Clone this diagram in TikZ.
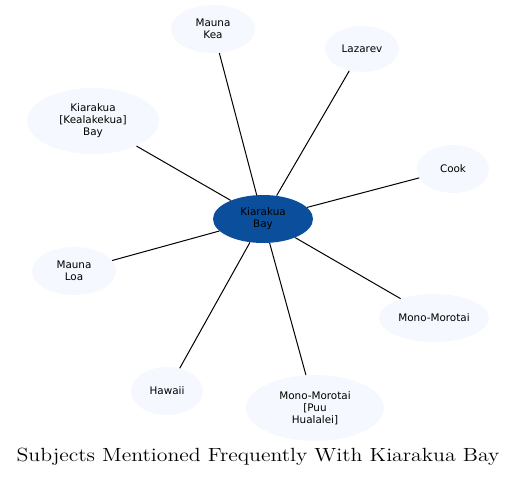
\documentclass[tikz,border=0pt]{standalone}
\usepackage{fontspec}
\newfontfamily\labelfont{DejaVu Sans}
\usetikzlibrary{shapes.geometric}
\definecolor{BayBlue}{RGB}{11,79,156}
\definecolor{PaleBlue}{RGB}{245,248,254}

\begin{document}
\begin{tikzpicture}[x=0.75pt, y=-0.75pt,
    subject/.style={ellipse, fill=PaleBlue, inner sep=0pt, align=center,
        font=\labelfont\fontsize{7.8}{9}\selectfont},
    hub/.style={subject, fill=BayBlue},
    link/.style={line width=0.75pt}]
    \useasboundingbox (0,0) rectangle (517,478);
    % Nodes
    \node[hub, minimum width=75pt, minimum height=36pt] (KB) at (263,219) {Kiarakua\\Bay};
    \node[subject, minimum width=63pt, minimum height=36pt] (MK) at (213,29) {Mauna\\Kea};
    \node[subject, minimum width=55.5pt, minimum height=34.5pt] (LZ) at (362,49) {Lazarev};
    \node[subject, minimum width=99pt, minimum height=49.5pt] (KK) at (93,121) {Kiarakua\\{[Kealakekua]}\\Bay};
    \node[subject, minimum width=54pt, minimum height=36pt] (CK) at (453,169) {Cook};
    \node[subject, minimum width=63pt, minimum height=36pt] (ML) at (74,271) {Mauna\\Loa};
    \node[subject, minimum width=82.5pt, minimum height=36pt] (MM) at (434,318) {Mono-Morotai};
    \node[subject, minimum width=54pt, minimum height=36pt] (HW) at (167,391) {Hawaii};
    \node[subject, minimum width=103.5pt, minimum height=49.5pt] (PH) at (315,408) {Mono-Morotai\\{[Puu}\\Hualalei]};

    % Connections
    \foreach \other in {MK, LZ, KK, CK, ML, MM, HW, PH}
        \draw[link] (KB) -- (\other);

    % Title
    \node[font=\fontsize{14.3}{17}\selectfont] (title) at (258,457) {\scalebox{1.145}[1]{Subjects Mentioned Frequently With Kiarakua Bay}};
\end{tikzpicture}
\end{document}
